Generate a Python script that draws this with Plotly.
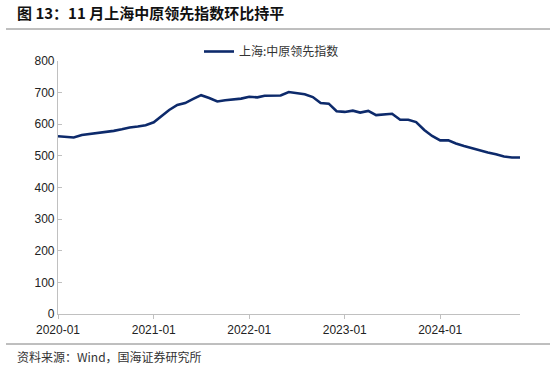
import plotly.graph_objects as go
import pandas as pd

months = pd.date_range("2020-01-01", "2024-11-01", freq="MS").strftime("%Y-%m-%d").tolist()
values = [
    562, 561, 558, 566, 569, 573, 577, 579, 584, 590, 593, 597,
    606, 625, 645, 661, 667, 680, 692, 683, 672, 676, 679, 681,
    687, 685, 690, 690, 691, 702, 698, 695, 686, 667, 665, 641,
    639, 643, 637, 642, 629, 630, 633, 614, 614, 607, 582, 563,
    549, 549, 539, 531, 524, 516, 511, 505, 498, 495, 495,
]
series_name = "上海:中原领先指数"
title_text = "图 13：11 月上海中原领先指数环比持平"
source_text = "资料来源：Wind，国海证券研究所"

L, R, T, B = 58, 30, 61, 56
W, H = 550, 370
pw = W - L - R
ph = H - T - B

def px_x(p):
    return (p - L) / pw

def px_y(p):
    return (H - B - p) / ph

fig = go.Figure()
fig.add_trace(go.Scatter(
    x=months, y=values, mode="lines", name=series_name,
    line=dict(color="#0d2a6b", width=2.6),
))

fig.update_layout(
    width=W, height=H,
    margin=dict(l=L, r=R, t=T, b=B, autoexpand=False),
    paper_bgcolor="white", plot_bgcolor="white",
    font=dict(family="Liberation Sans, Arial, Noto Sans CJK SC", size=12, color="#222222"),
    showlegend=True,
    legend=dict(
        x=px_x(199), y=px_y(37), xanchor="left", yanchor="top",
        font=dict(family="Noto Sans CJK SC", size=12, color="#333333"),
        bgcolor="rgba(0,0,0,0)",
    ),
    title=dict(
        text=title_text, x=17 / W, xref="container", xanchor="left",
        y=1 - 14 / H, yref="container", yanchor="middle",
        font=dict(family="Noto Sans CJK SC", size=15, color="#111111", weight="bold"),
    ),
    xaxis=dict(
        type="date", range=["2020-01-01", "2024-11-01"],
        tick0="2020-01-01", dtick="M12", tickformat="%Y-%m",
        showgrid=False, zeroline=False,
        showline=True, linecolor="#c0c0c0", linewidth=1.2,
        ticks="outside", ticklen=4, tickcolor="#c0c0c0",
        tickfont=dict(size=12, color="#222222"),
        automargin=False,
    ),
    yaxis=dict(
        range=[0, 800], dtick=100,
        showgrid=False, zeroline=False,
        showline=True, linecolor="#c0c0c0", linewidth=1.2,
        ticks="inside", ticklen=4, tickcolor="#c0c0c0",
        tickfont=dict(size=12, color="#222222"),
        automargin=False,
    ),
    shapes=[
        dict(type="line", xref="paper", yref="paper",
             x0=px_x(6), x1=px_x(550), y0=px_y(29), y1=px_y(29),
             line=dict(color="#7f7f7f", width=1)),
        dict(type="line", xref="paper", yref="paper",
             x0=px_x(6), x1=px_x(550), y0=px_y(344), y1=px_y(344),
             line=dict(color="#7f7f7f", width=1)),
    ],
    annotations=[
        dict(text=source_text, xref="paper", yref="paper",
             x=px_x(15), y=px_y(356), xanchor="left", yanchor="middle",
             showarrow=False,
             font=dict(family="Noto Sans CJK SC", size=12, color="#333333")),
    ],
)

fig.write_html(
    "out.html",
    config={"displayModeBar": False},
    post_script="document.body.style.margin='0px';document.body.style.padding='0px';",
)
